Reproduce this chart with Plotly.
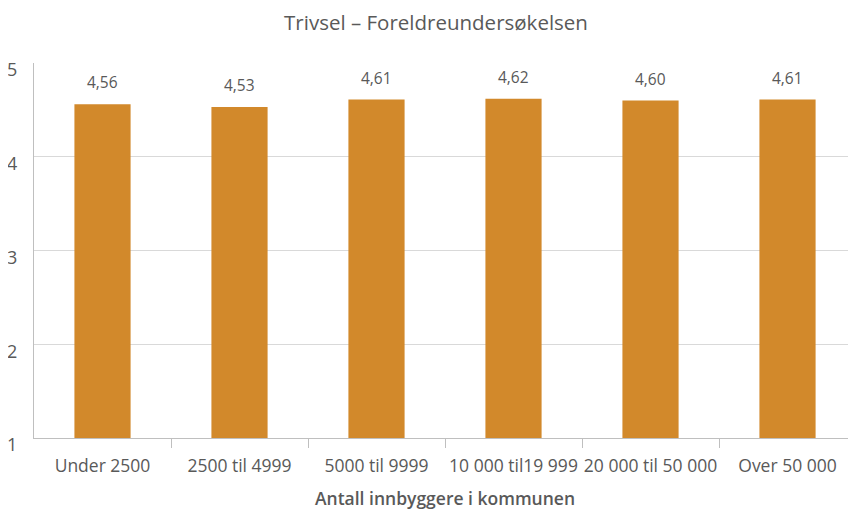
import plotly.graph_objects as go

categories = ["Under 2500", "2500 til 4999", "5000 til 9999", "10 000 til19 999", "20 000 til 50 000", "Over 50 000"]
values = [4.56, 4.53, 4.61, 4.62, 4.60, 4.61]
y_ticks = [1, 2, 3, 4, 5]

BAR = "#D2892B"
TXT = "#595959"
GRID = "#D9D9D9"
AX = "#BFBFBF"
FONT = "Open Sans"

W, H = 848, 502

fig = go.Figure()
fig.add_trace(go.Bar(
    x=categories, y=values, marker=dict(color=BAR, line=dict(width=0)),
    width=0.41, hoverinfo="skip",
))
for c, v in zip(categories, values):
    fig.add_annotation(x=c, y=v, text=f"{v:.2f}".replace(".", ","), showarrow=False,
                       yshift=22, font=dict(family=FONT, size=15.5, color=TXT))

# separate axis used only for the category boundary ticks
n = len(categories)
fig.add_trace(go.Scatter(x=[-0.5, n - 0.5], y=[None, None], xaxis="x2", yaxis="y",
                         mode="markers", showlegend=False, hoverinfo="skip"))

fig.update_layout(
    width=W, height=H,
    margin=dict(l=26, r=0, t=55, b=72),
    paper_bgcolor="white", plot_bgcolor="white",
    showlegend=False,
    title=dict(text="Trivsel – Foreldreundersøkelsen", x=428 / W,
               xanchor="center", y=1 - 15 / H, yanchor="middle",
               font=dict(family=FONT, size=20.5, color=TXT)),
    font=dict(family=FONT, color=TXT),
    xaxis2=dict(overlaying="x", range=[-0.5, n - 0.5], tickvals=[i + 0.5 for i in range(n - 1)],
                showticklabels=False, ticks="outside", ticklen=9, tickcolor=AX,
                showgrid=False, zeroline=False, showline=False, side="bottom"),
)
fig.layout.xaxis.update(
    type="category", range=[-0.5, n - 0.5], showline=True, linecolor=AX, linewidth=1,
    ticks="", ticklabelstandoff=12,
    tickfont=dict(family=FONT, size=17.5, color=TXT),
    title=dict(text="Antall innbyggere i kommunen", standoff=16,
               font=dict(family=FONT, size=17.5, color=TXT, weight=600)),
    automargin=False,
)
fig.update_yaxes(
    range=[1, 5], tickvals=y_ticks, ticktext=[str(t) for t in y_ticks],
    showgrid=True, gridcolor=GRID, gridwidth=1,
    showline=True, linecolor=AX, linewidth=1,
    ticks="outside", ticklen=12, tickcolor="rgba(0,0,0,0)",
    ticklabelshift=7,
    tickfont=dict(family=FONT, size=18, color=TXT),
    zeroline=False, automargin=False,
)
fig.write_html("out.html")
